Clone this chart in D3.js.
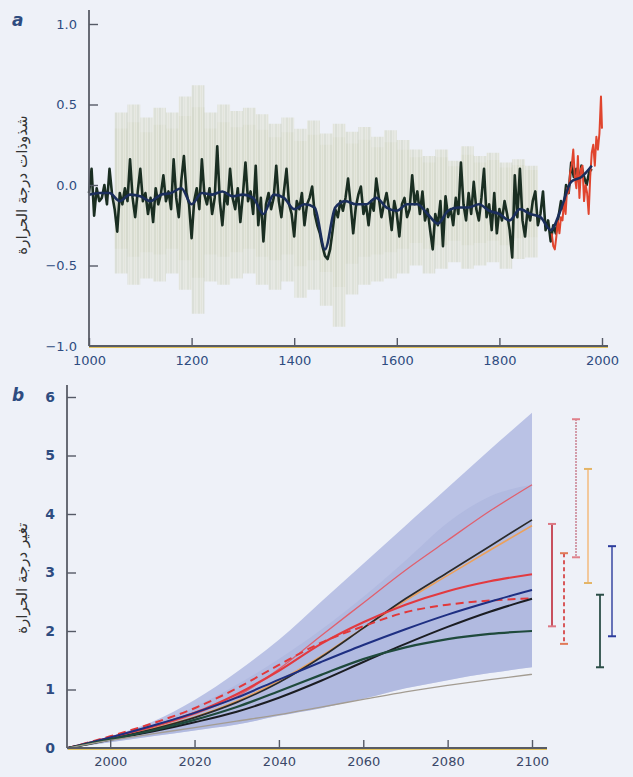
<!DOCTYPE html>
<html>
<head>
<meta charset="utf-8">
<script src="https://cdn.jsdelivr.net/npm/d3@7"></script>
<style>
  body { margin: 0; background: #eef1f8; }
  svg { display: block; }
</style>
</head>
<body>
<script>
// ---- panel a : reconstruction (5-year steps 1000-1980) ----
const reconYears = d3.range(1000, 1985, 5);
const reconValues = [
  -0.05, 0.10, -0.19, -0.02, -0.10, -0.08, 0.00, -0.12, 0.10, -0.06,
  -0.15, -0.29, -0.05, -0.12, -0.02, -0.10, 0.16, -0.08, -0.20, -0.04,
  0.10, -0.10, -0.05, -0.18, -0.08, -0.23, -0.02, -0.12, -0.06, 0.06,
  -0.10, -0.04, -0.15, 0.16, -0.08, -0.20, 0.03, 0.18, -0.05, -0.12,
  -0.33, -0.10, -0.02, -0.15, 0.16, -0.06, -0.12, -0.02, -0.18, -0.08,
  0.24, -0.10, -0.25, -0.05, -0.12, 0.10, -0.08, -0.15, -0.02, -0.23,
  -0.06, 0.14, -0.10, -0.04, -0.18, 0.12, -0.25, -0.08, -0.35, -0.12,
  -0.05, -0.15, -0.08, 0.12, -0.10, -0.20, -0.04, 0.10, -0.12, -0.18,
  -0.32, -0.10, -0.15, -0.05, -0.25, -0.12, -0.08, -0.01, -0.18, -0.25,
  -0.30, -0.38, -0.44, -0.46, -0.40, -0.28, -0.15, -0.20, -0.10, -0.16,
  -0.08, 0.04, -0.12, -0.30, -0.14, -0.06, -0.01, -0.18, -0.12, -0.25,
  -0.10, -0.16, 0.04, -0.08, -0.20, -0.12, -0.05, -0.15, -0.28, -0.10,
  -0.18, -0.32, -0.12, -0.08, -0.20, -0.15, 0.06, -0.12, -0.04, -0.18,
  -0.04, -0.22, -0.15, -0.28, -0.40, -0.18, -0.25, -0.10, -0.38, -0.07,
  -0.20, -0.15, -0.25, -0.08, -0.18, 0.14, -0.12, -0.22, -0.05, -0.18,
  0.02, -0.15, -0.22, -0.08, 0.10, -0.20, -0.12, -0.28, -0.05, -0.30,
  -0.15, -0.22, -0.10, -0.18, -0.28, -0.45, 0.06, -0.20, 0.10, -0.22,
  -0.32, -0.15, -0.22, -0.10, -0.04, -0.25, -0.18, -0.04, -0.28, -0.22,
  -0.35, -0.25, -0.30, -0.20, -0.10, -0.15, 0.00, -0.05, 0.14, 0.05,
  0.10, 0.02, 0.12, 0.05, 0.00, 0.08, 0.10
];

// smoothed reconstruction (20-year steps)
const smoothYears = d3.range(1000, 2000, 20);
const smoothValues = [
  -0.06, -0.05, -0.05, -0.10, -0.06, -0.07, -0.10, -0.06, -0.05, -0.02,
  -0.12, -0.05, -0.06, -0.04, -0.07, -0.06, -0.08, -0.18, -0.06, -0.08,
  -0.15, -0.12, -0.14, -0.40, -0.14, -0.10, -0.12, -0.12, -0.08, -0.14,
  -0.16, -0.12, -0.12, -0.18, -0.24, -0.16, -0.14, -0.14, -0.12, -0.16,
  -0.18, -0.22, -0.15, -0.18, -0.20, -0.28, -0.15, 0.02, 0.05, 0.12
];

// uncertainty band (25-year steps)
const bandYears = d3.range(1050, 1900, 25);
const bandUpper = [
  0.45, 0.50, 0.42, 0.48, 0.45, 0.55, 0.62, 0.45, 0.50, 0.46,
  0.48, 0.44, 0.38, 0.42, 0.35, 0.40, 0.32, 0.38, 0.33, 0.36,
  0.30, 0.34, 0.28, 0.22, 0.18, 0.22, 0.15, 0.24, 0.18, 0.20,
  0.14, 0.16, 0.12, 0.05
];
const bandLower = [
  -0.55, -0.62, -0.58, -0.60, -0.55, -0.65, -0.80, -0.60, -0.62, -0.58,
  -0.55, -0.62, -0.65, -0.60, -0.70, -0.65, -0.75, -0.88, -0.68, -0.62,
  -0.60, -0.58, -0.55, -0.50, -0.55, -0.52, -0.48, -0.52, -0.50, -0.48,
  -0.52, -0.46, -0.45, -0.40
];

// instrumental record
const instYears = [
  1902, 1905, 1908, 1911, 1914, 1917, 1920, 1923, 1926, 1929,
  1932, 1935, 1938, 1941, 1944, 1947, 1950, 1953, 1956, 1959,
  1962, 1965, 1968, 1971, 1974, 1977, 1980, 1983, 1986, 1989,
  1992, 1995, 1998, 2000
];
const instValues = [
  -0.30, -0.38, -0.40, -0.32, -0.22, -0.30, -0.20, -0.22, -0.10, -0.18,
  -0.02, -0.05, 0.08, 0.12, 0.22, 0.05, -0.02, 0.18, -0.08, 0.10,
  0.12, -0.10, 0.00, -0.05, -0.18, 0.05, 0.20, 0.25, 0.12, 0.30,
  0.22, 0.32, 0.55, 0.35
];

const aYTicks = [-1, -0.5, 0, 0.5, 1];
const aXTicks = [1000, 1200, 1400, 1600, 1800, 2000];

// ---- panel b : projections ----
const projYears = [1990, 2000, 2010, 2020, 2030, 2040, 2050, 2060, 2070, 2080, 2090, 2100];
const envOuterUpper = [0, 0.20, 0.45, 0.82, 1.30, 1.85, 2.50, 3.15, 3.80, 4.45, 5.10, 5.73];
const envOuterLower = [0, 0.10, 0.20, 0.30, 0.40, 0.55, 0.68, 0.84, 1.02, 1.16, 1.28, 1.38];
const envInnerUpper = [0, 0.18, 0.40, 0.70, 1.08, 1.52, 2.02, 2.58, 3.20, 3.85, 4.30, 4.50];

const projSeries = [
  { name: 'A1FI', values: [0, 0.17, 0.35, 0.58, 0.88, 1.35, 1.92, 2.48, 3.04, 3.55, 4.05, 4.50] },
  { name: 'A2', values: [0, 0.16, 0.33, 0.53, 0.80, 1.15, 1.57, 2.05, 2.52, 2.95, 3.38, 3.80] },
  { name: 'IS92a', values: [0, 0.16, 0.32, 0.52, 0.78, 1.12, 1.55, 2.05, 2.55, 3.00, 3.45, 3.90] },
  { name: 'A1B', values: [0, 0.18, 0.37, 0.60, 0.92, 1.32, 1.78, 2.15, 2.45, 2.68, 2.85, 2.97] },
  { name: 'A1T', values: [0, 0.20, 0.42, 0.68, 1.02, 1.42, 1.80, 2.08, 2.32, 2.45, 2.52, 2.56] },
  { name: 'B2', values: [0, 0.18, 0.38, 0.60, 0.86, 1.17, 1.47, 1.76, 2.03, 2.28, 2.50, 2.70] },
  { name: 'model', values: [0, 0.14, 0.28, 0.44, 0.62, 0.86, 1.15, 1.47, 1.78, 2.07, 2.33, 2.55] },
  { name: 'B1', values: [0, 0.15, 0.30, 0.48, 0.70, 0.97, 1.25, 1.52, 1.72, 1.86, 1.95, 2.00] },
  { name: 'low', values: [0, 0.13, 0.24, 0.35, 0.46, 0.57, 0.70, 0.83, 0.96, 1.07, 1.17, 1.26] }
];

const barNames = ['A1B', 'A1T', 'A1FI', 'A2', 'B1', 'B2'];
const barLow = [2.08, 1.78, 3.26, 2.82, 1.38, 1.91];
const barHigh = [3.83, 3.33, 5.62, 4.77, 2.62, 3.45];

const bYTicks = [0, 1, 2, 3, 4, 5, 6];
const bXTicks = [2000, 2020, 2040, 2060, 2080, 2100];

// styles
const lineStyle = {
  A1FI: { color: '#e0606e', width: 1.3, dash: null },
  A2: { color: '#eba15c', width: 1.6, dash: null },
  IS92a: { color: '#2a2a2a', width: 1.7, dash: null },
  A1B: { color: '#e23a40', width: 2.2, dash: null },
  A1T: { color: '#e2383a', width: 2, dash: '8,5' },
  B2: { color: '#1e2f82', width: 2, dash: null },
  model: { color: '#1b1d22', width: 2, dash: null },
  B1: { color: '#1f4a3c', width: 2.2, dash: null },
  low: { color: '#a39c92', width: 1.3, dash: null }
};
const barStyle = {
  A1B: { color: '#c8505e', cap: '#dc7884', width: 2, dash: null },
  A1T: { color: '#d8585a', cap: '#e07a58', width: 2, dash: '4,3' },
  A1FI: { color: '#c98090', cap: '#e0808a', width: 2, dash: '1.5,1.5' },
  A2: { color: '#f2c89c', cap: '#e4b466', width: 2, dash: null },
  B1: { color: '#2b4f48', cap: '#2b4f48', width: 1.8, dash: null },
  B2: { color: '#2c3c9c', cap: '#2c3c9c', width: 1.4, dash: null }
};

const W = 633, H = 777;
const tickFont = '"DejaVu Sans", Verdana, sans-serif';

const svg = d3.select('body').append('svg')
  .attr('width', W)
  .attr('height', H);

svg.append('rect').attr('width', W).attr('height', H).attr('fill', '#eef1f8');

// streaky texture for the uncertainty band
const defs = svg.append('defs');
const pat = defs.append('pattern')
  .attr('id', 'streaks')
  .attr('patternUnits', 'userSpaceOnUse')
  .attr('width', 11).attr('height', 40);
pat.append('rect').attr('width', 11).attr('height', 40).attr('fill', '#e2e4d6');
[[0, 2, '#d2d6c4'], [3, 1, '#dadbc8'], [5, 2, '#cfd3c2'], [8, 1, '#d8dccc']].forEach(s => {
  pat.append('rect').attr('x', s[0]).attr('width', s[1]).attr('height', 40).attr('fill', s[2]);
});

// ================= panel a =================
const xA = d3.scaleLinear().domain([1000, 2000]).range([89, 602]);
const yA = d3.scaleLinear().domain([-1, 1]).range([346, 24]);

const gA = svg.append('g');

const bandData = bandYears.map((y, i) => ({ year: y, hi: bandUpper[i], lo: bandLower[i] }));
const bandArea = d3.area()
  .x(d => xA(d.year))
  .y0(d => yA(d.lo))
  .y1(d => yA(d.hi))
  .curve(d3.curveStepAfter);
gA.append('path')
  .datum(bandData)
  .attr('d', bandArea)
  .attr('fill', 'url(#streaks)')
  .attr('opacity', 0.6);
// inner, slightly darker part of the band
const bandInner = d3.area()
  .x(d => xA(d.year))
  .y0(d => yA(d.lo * 0.72))
  .y1(d => yA(d.hi * 0.78))
  .curve(d3.curveStepAfter);
gA.append('path')
  .datum(bandData)
  .attr('d', bandInner)
  .attr('fill', 'url(#streaks)')
  .attr('opacity', 0.45);

const reconData = reconYears.map((y, i) => ({ year: y, v: reconValues[i] }));
const lineA = d3.line().x(d => xA(d.year)).y(d => yA(d.v));

gA.append('path')
  .datum(reconData)
  .attr('d', lineA)
  .attr('fill', 'none')
  .attr('stroke', '#1a2e22')
  .attr('stroke-width', 2.6)
  .attr('stroke-linejoin', 'round');

const instData = instYears.map((y, i) => ({ year: y, v: instValues[i] }));
gA.append('path')
  .datum(instData)
  .attr('d', lineA)
  .attr('fill', 'none')
  .attr('stroke', '#e0452e')
  .attr('stroke-width', 2)
  .attr('stroke-linejoin', 'round');

const smoothData = smoothYears.map((y, i) => ({ year: y, v: smoothValues[i] }));
gA.append('path')
  .datum(smoothData)
  .attr('d', lineA.curve(d3.curveMonotoneX))
  .attr('fill', 'none')
  .attr('stroke', '#1b2e5c')
  .attr('stroke-width', 2.6);

// axes a
const axAy = d3.axisLeft(yA).tickValues(aYTicks).tickSizeInner(-9).tickSizeOuter(0)
  .tickPadding(12).tickFormat(d3.format('.1f'));
const gAy = gA.append('g').attr('transform', `translate(${xA(1000)},0)`).call(axAy);
const axAx = d3.axisBottom(xA).tickValues(aXTicks).tickSizeInner(-8).tickSizeOuter(0)
  .tickPadding(10).tickFormat(d3.format('d'));
const gAx = gA.append('g').attr('transform', `translate(0,${yA(-1)})`).call(axAx);

// ================= panel b =================
const xB = d3.scaleLinear().domain([1990, 2100]).range([68, 532]);
const yB = d3.scaleLinear().domain([0, 6]).range([748, 397]);

const gB = svg.append('g');

const envData = projYears.map((y, i) => ({
  year: y, hi: envOuterUpper[i], lo: envOuterLower[i], mid: envInnerUpper[i]
}));
gB.append('path')
  .datum(envData)
  .attr('d', d3.area().x(d => xB(d.year)).y0(d => yB(d.lo)).y1(d => yB(d.hi)).curve(d3.curveMonotoneX))
  .attr('fill', '#bac2e5');
gB.append('path')
  .datum(envData)
  .attr('d', d3.area().x(d => xB(d.year)).y0(d => yB(d.lo)).y1(d => yB(d.mid)).curve(d3.curveMonotoneX))
  .attr('fill', '#a8b1dc')
  .attr('opacity', 0.5);

const lineB = d3.line().x((d, i) => xB(projYears[i])).y(d => yB(d)).curve(d3.curveMonotoneX);
gB.selectAll('.proj')
  .data(projSeries)
  .enter()
  .append('path')
  .attr('class', 'proj')
  .attr('d', d => lineB(d.values))
  .attr('fill', 'none')
  .attr('stroke', d => lineStyle[d.name].color)
  .attr('stroke-width', d => lineStyle[d.name].width)
  .attr('stroke-dasharray', d => lineStyle[d.name].dash);

// range bars at 2100
const xBar = d3.scalePoint().domain(barNames).range([552, 612]);
const bars = barNames.map((n, i) => ({ name: n, lo: barLow[i], hi: barHigh[i] }));
const gBar = gB.selectAll('.bar').data(bars).enter().append('g').attr('class', 'bar');
gBar.append('line')
  .attr('x1', d => xBar(d.name)).attr('x2', d => xBar(d.name))
  .attr('y1', d => yB(d.hi)).attr('y2', d => yB(d.lo))
  .attr('stroke', d => barStyle[d.name].color)
  .attr('stroke-width', d => barStyle[d.name].width)
  .attr('stroke-dasharray', d => barStyle[d.name].dash);
['lo', 'hi'].forEach(k => {
  gBar.append('line')
    .attr('x1', d => xBar(d.name) - 4).attr('x2', d => xBar(d.name) + 4)
    .attr('y1', d => yB(d[k])).attr('y2', d => yB(d[k]))
    .attr('stroke', d => barStyle[d.name].cap)
    .attr('stroke-width', 2);
});

// axes b
const axBy = d3.axisLeft(yB).tickValues(bYTicks).tickSizeInner(-9).tickSizeOuter(0)
  .tickPadding(12).tickFormat(d3.format('d'));
const gBy = gB.append('g').attr('transform', `translate(${xB(1990) - 1},0)`).call(axBy);
const axBx = d3.axisBottom(xB).tickValues(bXTicks).tickSizeInner(-8).tickSizeOuter(0)
  .tickPadding(9).tickFormat(d3.format('d'));
const gBx = gB.append('g').attr('transform', `translate(0,${yB(0)})`).call(axBx);

// common axis styling
[gAy, gAx, gBy, gBx].forEach(g => {
  g.select('.domain').remove();
  g.selectAll('.tick line').attr('stroke', '#555a66').attr('stroke-width', 1.4);
  g.selectAll('.tick text')
    .attr('fill', '#2e4c80')
    .style('font-family', tickFont)
    .style('font-size', '13px');
});
gBy.selectAll('.tick text').style('font-weight', 'bold').style('font-size', '14px');
gBx.selectAll('.tick text').attr('fill', '#3b4868');

// spines (extend past the last tick like the original)
function spine(x1, y1, x2, y2) {
  svg.append('line').attr('x1', x1).attr('y1', y1).attr('x2', x2).attr('y2', y2)
    .attr('stroke', '#585c66').attr('stroke-width', 1.8);
}
spine(xA(1000), yA(1) - 14, xA(1000), yA(-1));
spine(xA(1000), yA(-1), xA(2000) + 6, yA(-1));
svg.append('line').attr('x1', xA(1000)).attr('x2', xA(2000) + 6)
  .attr('y1', yA(-1) + 1.5).attr('y2', yA(-1) + 1.5)
  .attr('stroke', '#e2c25a').attr('stroke-width', 1);
spine(xB(1990) - 1, yB(6) - 12, xB(1990) - 1, yB(0));
spine(xB(1990) - 1, yB(0), xB(2100) + 15, yB(0));
svg.append('line').attr('x1', xB(1990)).attr('x2', xB(2100) + 15)
  .attr('y1', yB(0) + 1.5).attr('y2', yB(0) + 1.5)
  .attr('stroke', '#e2c25a').attr('stroke-width', 1);

// panel letters
svg.append('text').attr('x', 12).attr('y', 26).text('a')
  .style('font-family', tickFont).style('font-size', '17px')
  .style('font-style', 'italic').style('font-weight', 'bold').attr('fill', '#2e4c80');
svg.append('text').attr('x', 12).attr('y', 401).text('b')
  .style('font-family', tickFont).style('font-size', '17px')
  .style('font-style', 'italic').style('font-weight', 'bold').attr('fill', '#2e4c80');

// y axis titles
svg.append('text')
  .attr('transform', `translate(22,${yA(0)}) rotate(-90)`)
  .attr('text-anchor', 'middle')
  .attr('dy', '0.35em')
  .style('font-family', '"DejaVu Sans", sans-serif')
  .style('font-size', '15px')
  .attr('fill', '#333')
  .text('شذوذات درجة الحرارة');
svg.append('text')
  .attr('transform', `translate(22,${yB(2.9)}) rotate(-90)`)
  .attr('text-anchor', 'middle')
  .attr('dy', '0.35em')
  .style('font-family', '"DejaVu Sans", sans-serif')
  .style('font-size', '15px')
  .attr('fill', '#333')
  .text('تغير درجة الحرارة');
</script>
</body>
</html>
